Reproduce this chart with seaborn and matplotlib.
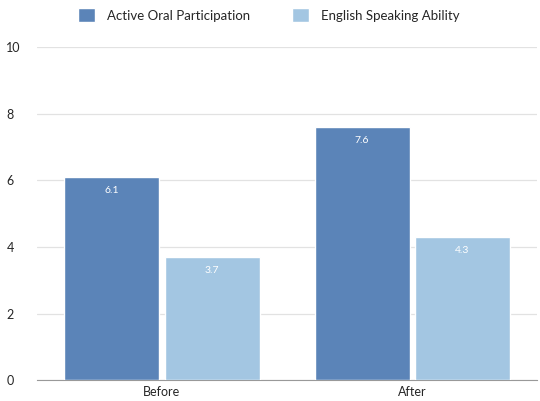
import pandas as pd
import seaborn as sns
import matplotlib.pyplot as plt

periods = ["Before", "After"]
series = ["Active Oral Participation", "English Speaking Ability"]
active_oral = [6.1, 7.6]
english_speaking = [3.7, 4.3]
colors = ["#5B84B8", "#A3C6E2"]

df = pd.DataFrame({
    "Period": periods * 2,
    "Series": [series[0]] * 2 + [series[1]] * 2,
    "Score": active_oral + english_speaking,
})

sns.set_style("white")
plt.rcParams["font.family"] = ["Lato", "DejaVu Sans"]

fig = plt.figure(figsize=(5.4, 4.01), dpi=100)
ax = fig.add_axes([0.0685, 0.052, 0.926, 0.831])

sns.barplot(data=df, x="Period", y="Score", hue="Series", order=periods,
            hue_order=series, palette=colors, width=0.8, gap=0.05,
            saturation=1, ax=ax, zorder=3)

for cont in ax.containers:
    labels = [f"{v:.1f}" for v in cont.datavalues]
    ax.bar_label(cont, labels=labels, padding=-13, color="white",
                 fontsize=7.5)

ax.set_ylim(0, 10)
ax.set_xlim(-0.5, 1.5)
ax.set_yticks([0, 2, 4, 6, 8, 10])
ax.yaxis.grid(True, color="#e2e2e2", linewidth=0.9, zorder=0)
ax.set_xlabel("")
ax.set_ylabel("")
for s in ["top", "right", "left"]:
    ax.spines[s].set_visible(False)
ax.spines["bottom"].set_color("#999999")
ax.tick_params(axis="both", length=0, labelsize=9, pad=4)
ax.tick_params(axis="y", pad=22)
for lab in ax.get_yticklabels():
    lab.set_horizontalalignment("left")

handles, labels = ax.get_legend_handles_labels()
ax.get_legend().remove()
fig.legend(handles, labels, loc="center", bbox_to_anchor=(0.498, 0.962),
           ncol=2, frameon=False, fontsize=9.5, handlelength=1.3,
           handleheight=1.3, columnspacing=3.2, handletextpad=0.9)

plt.savefig("out.png", dpi=100)
